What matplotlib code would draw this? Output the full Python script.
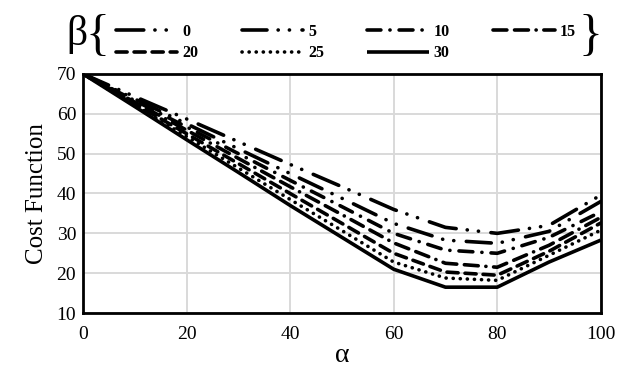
import numpy as np
import matplotlib
matplotlib.use('Agg')
import matplotlib.pyplot as plt

plt.rcParams['font.family'] = ['Liberation Serif', 'DejaVu Serif']
plt.rcParams['lines.scale_dashes'] = False

# alpha values (x axis)
alpha = [0, 10, 20, 30, 40, 50, 60, 70, 80, 90, 100]

# cost function for each beta
beta_labels = ['0', '5', '10', '15', '20', '25', '30']
cost_b0 = [70, 64.3, 58.7, 53.0, 47.3, 41.7, 36.0, 31.5, 30.0, 32.0, 39.6]
cost_b5 = [70, 63.7, 57.5, 51.2, 45.0, 38.8, 32.5, 28.3, 27.5, 30.5, 38.0]
cost_b10 = [70, 63.3, 56.7, 50.0, 43.3, 36.7, 30.0, 25.8, 25.0, 29.0, 35.4]
cost_b15 = [70, 62.9, 55.9, 48.8, 41.7, 34.7, 27.6, 22.5, 21.5, 27.0, 34.0]
cost_b20 = [70, 62.5, 55.0, 47.5, 40.0, 32.5, 25.0, 20.3, 19.5, 25.5, 32.6]
cost_b25 = [70, 62.1, 54.3, 46.4, 38.5, 30.7, 22.8, 18.8, 18.2, 24.5, 30.8]
cost_b30 = [70, 61.8, 53.5, 45.3, 37.0, 29.0, 21.0, 16.5, 16.5, 22.8, 28.3]

series = [cost_b0, cost_b5, cost_b10, cost_b15, cost_b20, cost_b25, cost_b30]
styles = [
    (0, (20, 8, 0.1, 8, 0.1, 9)),
    (0, (18, 8, 0.1, 8, 0.1, 9)),
    (0, (10, 6.5, 0.1, 6.5)),
    (0, (10, 5.5, 10, 5.5, 0.1, 5.5)),
    (0, (8, 5)),
    (0, (0.1, 5)),
    '-',
]

fig = plt.figure(figsize=(6.2, 3.87), dpi=100)
ax = fig.add_axes([0.134, 0.191, 0.835, 0.618])

handles = []
for vals, ls, lab in zip(series, styles, beta_labels):
    h, = ax.plot(alpha, vals, color='black', lw=2.6, linestyle=ls,
                 dash_capstyle='round', solid_capstyle='butt', label=lab)
    handles.append(h)

ax.set_xlim(0, 100)
ax.set_ylim(10, 70)
ax.set_xticks(np.arange(0, 101, 20))
ax.set_yticks(np.arange(10, 71, 10))
ax.grid(True, color='#d9d9d9', lw=1.4)
ax.set_axisbelow(True)
ax.tick_params(length=0, labelsize=14)
ax.tick_params(axis='x', pad=9)
ax.tick_params(axis='y', pad=5)
for sp in ax.spines.values():
    sp.set_linewidth(2)
ax.set_xlabel('α', fontsize=20, labelpad=0)
ax.set_ylabel('Cost Function', fontsize=18, labelpad=6)

# legend order so that rows read 0 5 10 15 / 20 25 30
order = [0, 4, 1, 5, 2, 6, 3]
leg = fig.legend([handles[i] for i in order], [beta_labels[i] for i in order],
                 ncol=4, loc='center left', bbox_to_anchor=(0.187, 0.89),
                 frameon=False, borderpad=0, borderaxespad=0,
                 handlelength=3.85, handletextpad=0.3,
                 columnspacing=2.72, labelspacing=0.35,
                 prop={'weight': 'bold', 'size': 11.5})
fig.text(0.124, 0.912, 'β', fontsize=30, ha='center', va='center')
fig.text(0.157, 0.905, '{', fontsize=36, ha='center', va='center')
fig.text(0.952, 0.905, '}', fontsize=36, ha='center', va='center')

fig.savefig('out.png', dpi=100)
